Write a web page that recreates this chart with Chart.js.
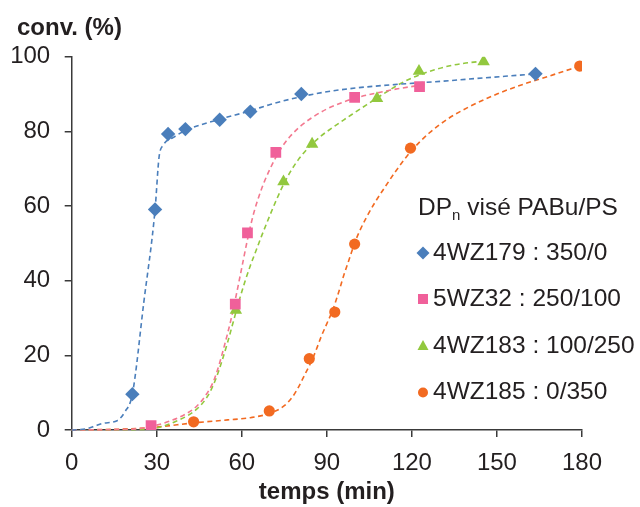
<!DOCTYPE html>
<html>
<head>
<meta charset="utf-8">
<script src="https://cdn.jsdelivr.net/npm/chart.js@4/dist/chart.umd.min.js"></script>
<style>
html,body{margin:0;padding:0;background:#fff;}
#wrap{width:640px;height:507px;}
</style>
</head>
<body>
<div id="wrap"><canvas id="c" width="640" height="507"></canvas></div>
<script>
// ---- data ----
const seriesNames = ['4WZ179 : 350/0', '5WZ32 : 250/100', '4WZ183 : 100/250', '4WZ185 : 0/350'];
const legendTitle = ['DP', 'n', ' visé PABu/PS'];
const yAxisTitle = 'conv. (%)';
const xAxisTitle = 'temps (min)';
const xTicks = [0, 30, 60, 90, 120, 150, 180];
const yTicks = [0, 20, 40, 60, 80, 100];

// measured points (x = temps min, y = conv %)
const pts4WZ179 = [[21.4,9.6],[29.4,59.1],[34,79.3],[40.1,80.6],[52.2,83.1],[63,85.3],[81,90],[163.6,95.4]];
const pts5WZ32  = [[28,1.2],[57.7,33.7],[62,52.8],[72,74.4],[99.8,89.1],[122.7,92]];
const pts4WZ183 = [[57.9,32.1],[74.7,66.5],[84.8,76.6],[107.7,88.8],[122.5,96.1],[145.3,98.7]];
const pts4WZ185 = [[43,2.2],[69.7,5.1],[83.8,19.1],[92.8,31.6],[99.8,49.8],[119.5,75.5],[179.2,97.5]];

// dashed fitted curves
const fit4WZ179 = [[0,0],[5,0.3],[8,1],[11,1.8],[16,2.5],[18.8,4.9],[21.4,9.6],[25.4,34],[29.4,59],[30.8,73],[32.3,76.3],[35.9,78.4],[40,80.2],[52,83.2],[63,85.5],[70,87.2],[81,89.3],[90,90.6],[100,91.6],[115,92.6],[130,93.4],[145,94.3],[164,95.4]];
const fit5WZ32  = [[0,0],[15,0.1],[24,0.4],[30,1.3],[35,2.5],[40,4.2],[44,6.3],[47,9],[50,13],[52,17.5],[54,23],[56,29],[58,36],[60,43.5],[62,51],[64,57.5],[66,62.5],[68,66.6],[70,70],[72,73],[74,75.6],[77,78.6],[81,81.6],[85,83.8],[90,86],[95,87.6],[100,88.9],[107,90.2],[115,91.4],[125,92.6]];
const fit4WZ183 = [[0,0],[20,0.1],[28,0.3],[33,1.2],[37,2.4],[41,3.9],[44,5.5],[47,8],[49,10.5],[51,14],[53,18.5],[55,23.5],[57,29],[59,34.5],[61,39.5],[63,44],[65,48],[67,52],[69,55.8],[71,59.5],[73,63],[75,66.2],[77,69],[80,72.5],[84,76],[88,78.8],[92,81],[96,83.1],[100,85.1],[104,87.1],[108,89.1],[112,91],[116,92.8],[120,94.3],[124,95.5],[128,96.5],[133,97.5],[139,98.3],[145.3,98.8]];
const fit4WZ185 = [[0,0],[20,0.3],[30,0.8],[43,1.9],[55,2.7],[63,3.3],[70,4.5],[75,6.5],[78,9],[80,11.5],[82,14.5],[84,17.5],[86,21],[88,25],[90,28.5],[92,32],[94,36.5],[96,41.5],[98,46],[100,50.5],[102,54],[104,57],[107,61],[110,64.5],[114,69],[119.5,74.5],[126,79.5],[133,83.5],[140,86.5],[150,90],[160,92.8],[170,95.2],[179.2,97.5]];

// ---- styling ----
const FONT = "'Liberation Sans', Arial, Helvetica, sans-serif";
const TXT = '#231f20';
const AXIS = '#3a3a3a';
const markerColors = ['#4a7ebb', '#f0609a', '#92c83e', '#f26a21'];
const lineColors   = ['#4a7ebb', '#f3788f', '#92c83e', '#f26a21'];
const styles = ['rectRot', 'rect', 'triangle', 'circle'];
const radii = [7.2, 7.6, 7.2, 5.6];

const toXY = a => a.map(p => ({x: p[0], y: p[1]}));
const pts = [pts4WZ179, pts5WZ32, pts4WZ183, pts4WZ185];
const fits = [fit4WZ179, fit5WZ32, fit4WZ183, fit4WZ185];

const datasets = [];
pts.forEach((p, i) => {
  datasets.push({
    label: seriesNames[i], data: toXY(p), showLine: false,
    pointStyle: styles[i], pointRadius: radii[i], pointHoverRadius: radii[i],
    backgroundColor: markerColors[i], borderColor: markerColors[i], borderWidth: 0,
    order: 0
  });
});
fits.forEach((p, i) => {
  datasets.push({
    label: 'fit ' + seriesNames[i], data: toXY(p), showLine: true,
    pointRadius: 0, borderColor: lineColors[i], borderWidth: 1.6,
    borderDash: [5, 3.5], cubicInterpolationMode: 'monotone', fill: false,
    order: 1, clip: false
  });
});

const textPlugin = {
  id: 'customText',
  afterDraw(chart) {
    const ctx = chart.ctx;
    ctx.save();
    ctx.fillStyle = TXT;
    ctx.textBaseline = 'middle';
    ctx.textAlign = 'left';
    // y-axis title (top-left, horizontal)
    ctx.font = 'bold 24px ' + FONT;
    ctx.fillText(yAxisTitle, 17, 28);
    // legend title
    let x = 418, y = 208;
    ctx.font = '24.5px ' + FONT;
    ctx.fillText(legendTitle[0], x, y);
    x += ctx.measureText(legendTitle[0]).width;
    ctx.font = '15px ' + FONT;
    ctx.fillText(legendTitle[1], x, y + 8);
    x += ctx.measureText(legendTitle[1]).width;
    ctx.font = '24.5px ' + FONT;
    ctx.fillText(legendTitle[2], x, y);
    // legend items
    const ys = [253, 299, 346, 392.5];
    for (let i = 0; i < 4; i++) {
      const cy = ys[i], cx = 423;
      ctx.fillStyle = markerColors[i];
      ctx.beginPath();
      if (i === 0) { ctx.moveTo(cx - 6.5, cy); ctx.lineTo(cx, cy - 6.5); ctx.lineTo(cx + 6.5, cy); ctx.lineTo(cx, cy + 6.5); ctx.closePath(); }
      else if (i === 1) { ctx.rect(cx - 5, cy - 5, 10, 10); }
      else if (i === 2) { ctx.moveTo(cx, cy - 6); ctx.lineTo(cx + 5.5, cy + 4); ctx.lineTo(cx - 5.5, cy + 4); ctx.closePath(); }
      else { ctx.arc(cx, cy, 5, 0, Math.PI * 2); }
      ctx.fill();
      ctx.fillStyle = TXT;
      ctx.font = '24.5px ' + FONT;
      ctx.fillText(seriesNames[i], 433, cy);
    }
    ctx.restore();
  }
};

new Chart(document.getElementById('c'), {
  type: 'scatter',
  data: { datasets },
  options: {
    responsive: false, animation: false, devicePixelRatio: 1,
    layout: { padding: { left: 0, right: 58, top: 56.7, bottom: 0 } },
    plugins: {
      legend: { display: false },
      tooltip: { enabled: false },
      title: { display: false }
    },
    scales: {
      x: {
        type: 'linear', min: 0, max: 180,
        afterBuildTicks: s => { s.ticks = xTicks.map(v => ({ value: v })); },
        afterFit: s => { s.height = 77; },
        ticks: { color: TXT, font: { family: FONT, size: 24 }, padding: 12, maxRotation: 0 },
        grid: { display: true, drawOnChartArea: false, drawTicks: true, tickLength: 7, color: AXIS, lineWidth: 1.5 },
        border: { display: true, color: AXIS, width: 1.5 },
        title: { display: true, text: xAxisTitle, color: TXT, font: { family: FONT, size: 24, weight: 'bold' }, padding: { top: 0, bottom: 0 } }
      },
      y: {
        type: 'linear', min: 0, max: 100,
        afterBuildTicks: s => { s.ticks = yTicks.map(v => ({ value: v })); },
        afterFit: s => { s.width = 71.7; },
        ticks: { color: TXT, font: { family: FONT, size: 24 }, padding: 14.5 },
        grid: { display: true, drawOnChartArea: false, drawTicks: true, tickLength: 7, color: AXIS, lineWidth: 1.5 },
        border: { display: true, color: AXIS, width: 1.5 }
      }
    }
  },
  plugins: [textPlugin]
});
</script>
</body>
</html>
